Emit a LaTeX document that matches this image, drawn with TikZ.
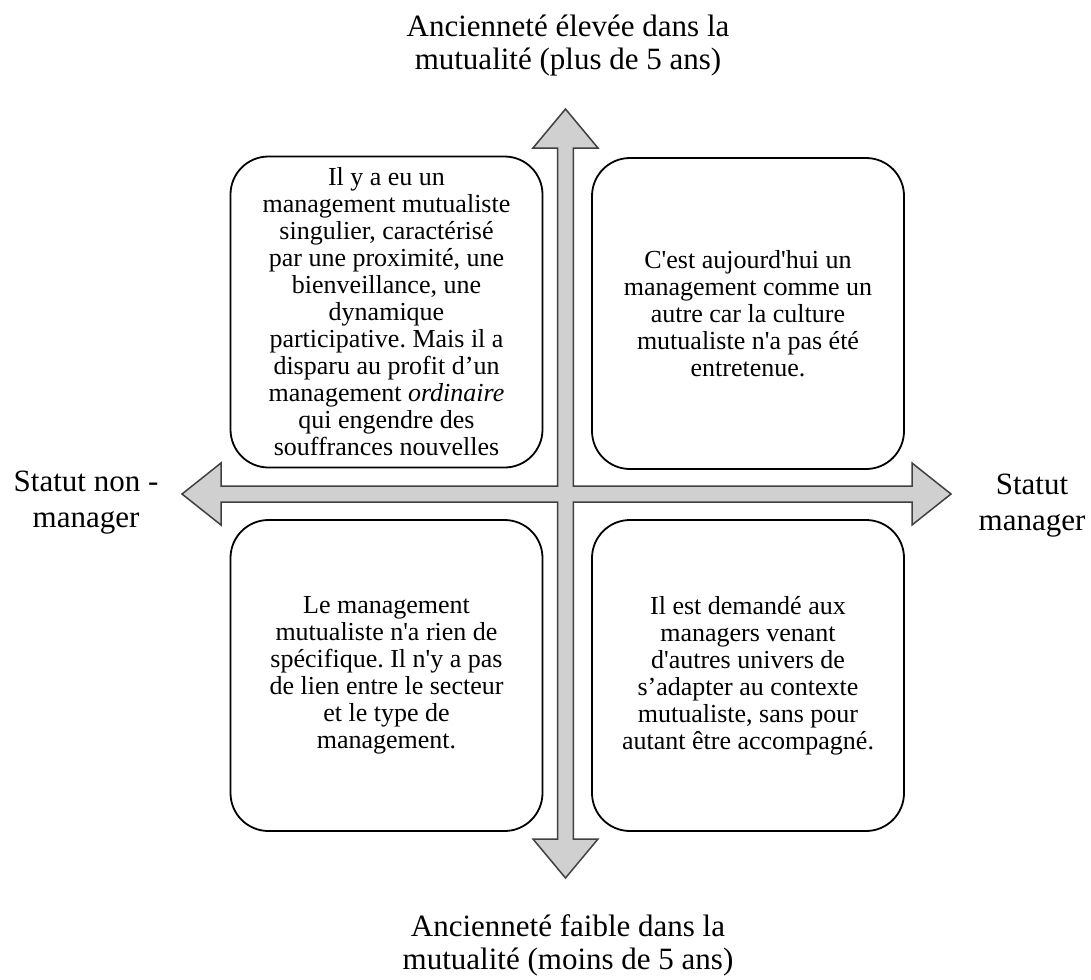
\documentclass[tikz,border=0pt]{standalone}
\usepackage{fontspec}
\setmainfont{Liberation Serif}
\frenchspacing
\newcommand\sq{\textquotesingle}
\definecolor{arrowfill}{RGB}{208,208,208}
\definecolor{arrowline}{RGB}{64,64,64}
\tikzset{
  quadbox/.style={draw=black, line width=1.8pt, rounded corners=38pt, minimum width=312pt, minimum height=311pt, align=center, inner sep=0pt, font=\fontsize{26}{27}\selectfont},
  axislabel/.style={align=center, inner sep=0pt, font=\fontsize{31}{33}\selectfont},
  sidelabel/.style={align=center, inner sep=0pt, font=\fontsize{31}{36}\selectfont},
  blockarrow/.style={fill=arrowfill, draw=arrowline, line width=1.5pt, line join=miter}
}
\begin{document}
\begin{tikzpicture}[x=1pt, y=-1pt]
\frenchspacing
\useasboundingbox (0,0) rectangle (1091,979);
% cross-shaped block arrow
\draw[blockarrow] (565.5,109) -- (598,148) -- (573.3,148) -- (573.3,486) -- (912,486) -- (912,463) -- (951,494) -- (912,525) -- (912,502) -- (573.3,502) -- (573.3,839) -- (598,839) -- (565.5,878) -- (533,839) -- (557.7,839) -- (557.7,502) -- (221,502) -- (221,525) -- (182,494) -- (221,463) -- (221,486) -- (557.7,486) -- (557.7,148) -- (533,148) -- cycle;
% quadrant boxes
\node[quadbox] (tl) at (386.5,312) {Il y a eu un\\management mutualiste\\singulier, caractérisé\\par une proximité, une\\bienveillance, une\\dynamique\\participative. Mais il a\\disparu au profit d’un\\management \textit{ordinaire}\\qui engendre des\\souffrances nouvelles};
\node[quadbox] (tr) at (748,313.5) {C\sq est aujourd\sq hui un\\management comme un\\autre car la culture\\mutualiste n\sq a pas été\\entretenue.};
\node[quadbox] (bl) at (386.5,675.5) {Le management\\mutualiste n\sq a rien de\\spécifique. Il n\sq y a pas\\de lien entre le secteur\\et le type de\\management.};
\node[quadbox] (br) at (748,675.5) {Il est demandé aux\\managers venant\\d\sq autres univers de\\s’adapter au contexte\\mutualiste, sans pour\\autant être accompagné.};
% axis labels
\node[axislabel] (top) at (568,46) {Ancienneté élevée dans la\\mutualité (plus de 5 ans)};
\node[axislabel] (bottom) at (568,945) {Ancienneté faible dans la\\mutualité (moins de 5 ans)};
\node[sidelabel] (left) at (86,503) {Statut non -\\manager};
\node[sidelabel] (right) at (1032,506) {Statut\\manager};
\end{tikzpicture}
\end{document}
